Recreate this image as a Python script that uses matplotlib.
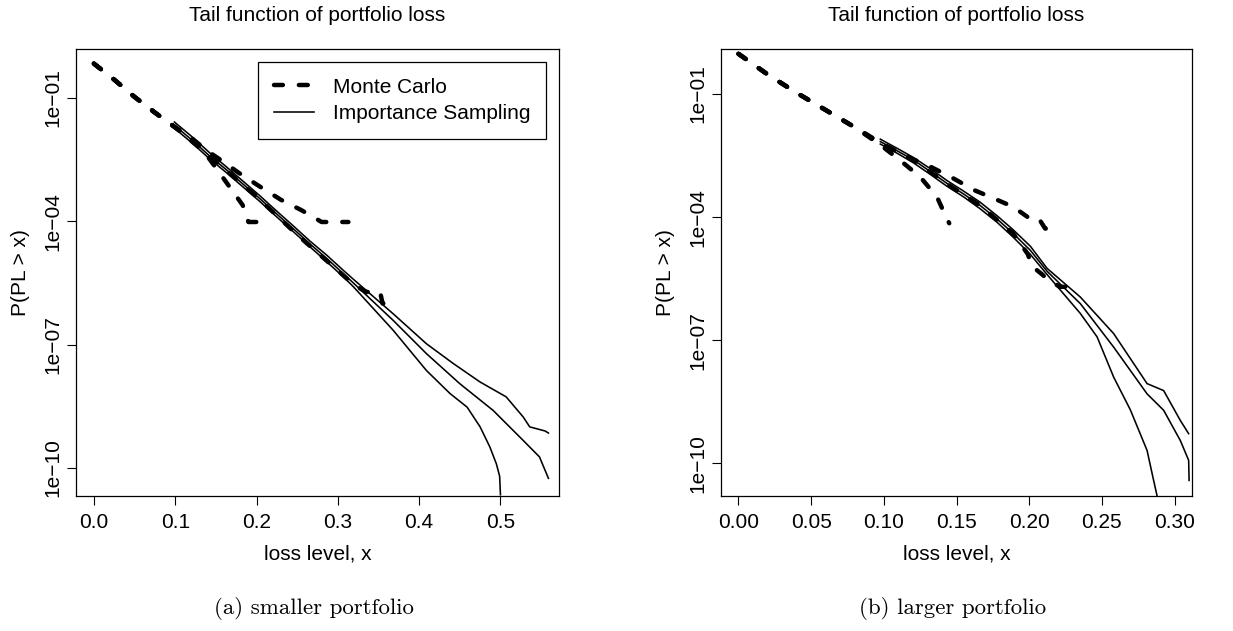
"""
Tail function of portfolio loss: Monte Carlo vs importance sampling,
smaller (a) and larger (b) portfolio.  Values are log10 P(PL > x).
"""
import numpy as np
import matplotlib
matplotlib.use("Agg")
import matplotlib.pyplot as plt
from matplotlib.lines import Line2D

# ── (a) smaller portfolio ─────────────────────────────────────────────────────
A_MC_EST_X = [0.0, 0.025, 0.05, 0.075, 0.10, 0.15, 0.20, 0.25, 0.30, 0.32, 0.335, 0.352, 0.355, 0.358]
A_MC_EST_Y = [-0.17, -0.56, -0.98, -1.36, -1.72, -2.55, -3.40, -4.33, -5.20, -5.55, -5.72, -5.72, -6.0, -6.0]
A_MC_UP_X = [0.0, 0.025, 0.05, 0.075, 0.10, 0.12, 0.14, 0.155, 0.18, 0.205, 0.23, 0.255, 0.275, 0.28, 0.313]
A_MC_UP_Y = [-0.17, -0.56, -0.98, -1.36, -1.72, -1.98, -2.30, -2.50, -2.85, -3.17, -3.48, -3.73, -3.96, -4.02, -4.02]
A_MC_LO_X = [0.0, 0.025, 0.05, 0.075, 0.10, 0.12, 0.135, 0.15, 0.167, 0.183, 0.19, 0.206]
A_MC_LO_Y = [-0.17, -0.56, -0.98, -1.36, -1.72, -2.0, -2.30, -2.70, -3.17, -3.61, -4.02, -4.02]

A_IS_X_COMMON = [0.099, 0.122, 0.1425, 0.163, 0.1835, 0.204, 0.2245, 0.245, 0.2655, 0.286, 0.3065, 0.319]
A_IS_MID_COMMON = [-1.67, -2.05, -2.42, -2.75, -3.10, -3.45, -3.82, -4.18, -4.55, -4.90, -5.27, -5.50]
A_IS_UP_COMMON = [-1.59, -1.97, -2.34, -2.68, -3.03, -3.38, -3.75, -4.11, -4.48, -4.82, -5.19, -5.41]
A_IS_LO_COMMON = [-1.74, -2.12, -2.49, -2.82, -3.17, -3.52, -3.89, -4.25, -4.62, -4.98, -5.35, -5.59]
A_IS_UP_X = [0.368, 0.409, 0.442, 0.475, 0.507, 0.528, 0.536, 0.555, 0.559]
A_IS_UP_Y = [-6.25, -6.98, -7.46, -7.91, -8.27, -8.76, -9.0, -9.10, -9.15]
A_IS_MID_X = [0.368, 0.409, 0.45, 0.491, 0.528, 0.548, 0.559]
A_IS_MID_Y = [-6.41, -7.22, -7.95, -8.60, -9.33, -9.73, -10.25]
A_IS_LO_X = [0.368, 0.409, 0.438, 0.459, 0.475, 0.487, 0.495, 0.499, 0.500]
A_IS_LO_Y = [-6.65, -7.63, -8.19, -8.52, -9.0, -9.49, -9.9, -10.2, -10.65]

# ── (b) larger portfolio ──────────────────────────────────────────────────────
B_MC_EST_X = [0.0, 0.02, 0.04, 0.06, 0.08, 0.098, 0.12, 0.143, 0.166, 0.189, 0.199, 0.202, 0.209, 0.212, 0.221, 0.226]
B_MC_EST_Y = [-0.02, -0.52, -0.97, -1.39, -1.81, -2.20, -2.60, -3.18, -3.71, -4.40, -4.90, -5.20, -5.40, -5.50, -5.70, -5.70]
B_MC_UP_X = [0.0, 0.02, 0.04, 0.06, 0.08, 0.098, 0.116, 0.132, 0.148, 0.162, 0.176, 0.189, 0.199, 0.206, 0.211, 0.215]
B_MC_UP_Y = [-0.02, -0.52, -0.97, -1.39, -1.81, -2.20, -2.53, -2.77, -3.06, -3.34, -3.55, -3.75, -4.0, -4.0, -4.28, -4.28]
B_MC_LO_X = [0.0, 0.02, 0.04, 0.06, 0.08, 0.098, 0.111, 0.125, 0.1366, 0.1435, 0.145]
B_MC_LO_Y = [-0.02, -0.52, -0.97, -1.39, -1.81, -2.25, -2.61, -3.02, -3.51, -4.05, -4.15]

B_IS_X_COMMON = [0.0976, 0.11, 0.1205, 0.132, 0.1435, 0.155, 0.166, 0.178, 0.189, 0.2008]
B_IS_MID_COMMON = [-2.16, -2.40, -2.61, -2.89, -3.18, -3.44, -3.71, -4.05, -4.40, -4.81]
B_IS_UP_COMMON = [-2.10, -2.34, -2.55, -2.82, -3.11, -3.37, -3.63, -3.97, -4.31, -4.71]
B_IS_LO_COMMON = [-2.22, -2.46, -2.68, -2.96, -3.25, -3.51, -3.79, -4.13, -4.49, -4.91]
B_IS_UP_X = [0.2123, 0.2352, 0.2581, 0.2811, 0.2925, 0.304, 0.3097]
B_IS_UP_Y = [-5.25, -5.95, -6.84, -8.06, -8.23, -8.96, -9.28]
B_IS_MID_X = [0.2123, 0.2352, 0.2581, 0.2811, 0.2925, 0.304, 0.3097, 0.3100]
B_IS_MID_Y = [-5.32, -6.11, -7.17, -8.31, -8.71, -9.45, -9.93, -10.42]
B_IS_LO_X = [0.2123, 0.2352, 0.2467, 0.2581, 0.2696, 0.2811, 0.2856, 0.288]
B_IS_LO_Y = [-5.40, -6.35, -6.92, -7.90, -8.70, -9.69, -10.42, -10.80]

Y_TICKS = [1e-1, 1e-4, 1e-7, 1e-10]
Y_TICKLABELS = ["1e\u221201", "1e\u221204", "1e\u221207", "1e\u221210"]
A_XTICKS = [0.0, 0.1, 0.2, 0.3, 0.4, 0.5]
A_XTICKLABELS = ["0.0", "0.1", "0.2", "0.3", "0.4", "0.5"]
B_XTICKS = [0.0, 0.05, 0.10, 0.15, 0.20, 0.25, 0.30]
B_XTICKLABELS = ["0.00", "0.05", "0.10", "0.15", "0.20", "0.25", "0.30"]

FS = 15
plt.rcParams.update({
    "font.family": ["Liberation Sans", "DejaVu Sans"],
    "font.size": FS,
})

MC_STYLE = dict(color="black", linewidth=3.2, linestyle=(0, (2.0, 3.6)),
                dash_capstyle="round", solid_capstyle="round")
IS_STYLE = dict(color="black", linewidth=1.15)

W, H = 1233, 631
fig = plt.figure(figsize=(W / 100, H / 100), dpi=100)
ax1 = fig.add_axes([76 / W, 1 - 496 / H, (559 - 76) / W, (496 - 49) / H])
ax2 = fig.add_axes([721 / W, 1 - 496 / H, (1192 - 721) / W, (496 - 49) / H])


def pw(v):
    return np.power(10.0, np.asarray(v, dtype=float))


def draw_panel(ax, mc, is_common, is_tails, xlim, ylim, xticks, xticklabels, caption):
    for x, y in mc:
        ax.plot(x, pw(y), **MC_STYLE)
    xc = is_common[0]
    for yc, (xt, yt) in zip(is_common[1:], is_tails):
        ax.plot(list(xc) + list(xt), pw(list(yc) + list(yt)), **IS_STYLE)
    ax.set_yscale("log")
    ax.set_xlim(*xlim)
    ax.set_ylim(pw(ylim[0]), pw(ylim[1]))
    ax.set_yticks(Y_TICKS)
    ax.set_yticklabels(Y_TICKLABELS, rotation=90, va="center")
    ax.yaxis.set_minor_locator(matplotlib.ticker.NullLocator())
    ax.set_xticks(xticks)
    ax.set_xticklabels(xticklabels)
    ax.tick_params(length=6.5, width=0.8, labelsize=FS)
    ax.tick_params(axis="x", pad=6)
    ax.tick_params(axis="y", pad=3)
    for s in ax.spines.values():
        s.set_linewidth(0.9)
    ax.set_xlabel("loss level, x", labelpad=9)
    ax.set_ylabel("P(PL > x)", labelpad=10)
    ax.set_title("Tail function of portfolio loss", fontsize=FS, pad=20)
    ax.text(0.492, -0.251, caption, transform=ax.transAxes, ha="center", va="center",
            fontsize=16.5, family=["cmr10", "DejaVu Serif"])


draw_panel(ax1,
           [(A_MC_EST_X, A_MC_EST_Y), (A_MC_UP_X, A_MC_UP_Y), (A_MC_LO_X, A_MC_LO_Y)],
           (A_IS_X_COMMON, A_IS_UP_COMMON, A_IS_MID_COMMON, A_IS_LO_COMMON),
           [(A_IS_UP_X, A_IS_UP_Y), (A_IS_MID_X, A_IS_MID_Y), (A_IS_LO_X, A_IS_LO_Y)],
           (-0.022, 0.572), (-10.68, 0.185), A_XTICKS, A_XTICKLABELS,
           "(a) smaller portfolio")
draw_panel(ax2,
           [(B_MC_EST_X, B_MC_EST_Y), (B_MC_UP_X, B_MC_UP_Y), (B_MC_LO_X, B_MC_LO_Y)],
           (B_IS_X_COMMON, B_IS_UP_COMMON, B_IS_MID_COMMON, B_IS_LO_COMMON),
           [(B_IS_UP_X, B_IS_UP_Y), (B_IS_MID_X, B_IS_MID_Y), (B_IS_LO_X, B_IS_LO_Y)],
           (-0.012, 0.312), (-10.8, 0.098), B_XTICKS, B_XTICKLABELS,
           "(b) larger portfolio")

handles = [Line2D([], [], **MC_STYLE), Line2D([], [], **IS_STYLE)]
leg = ax1.legend(handles, ["Monte Carlo", "Importance Sampling"], loc="upper right",
                 bbox_to_anchor=(1 - 13 / 483, 1 - 13 / 447), borderaxespad=0,
                 fancybox=False, framealpha=1, edgecolor="black",
                 handlelength=1.95, handletextpad=0.9, borderpad=0.75,
                 labelspacing=0.36, fontsize=FS)
leg.get_frame().set_linewidth(0.9)

fig.savefig("out.png", dpi=100, facecolor="white")
